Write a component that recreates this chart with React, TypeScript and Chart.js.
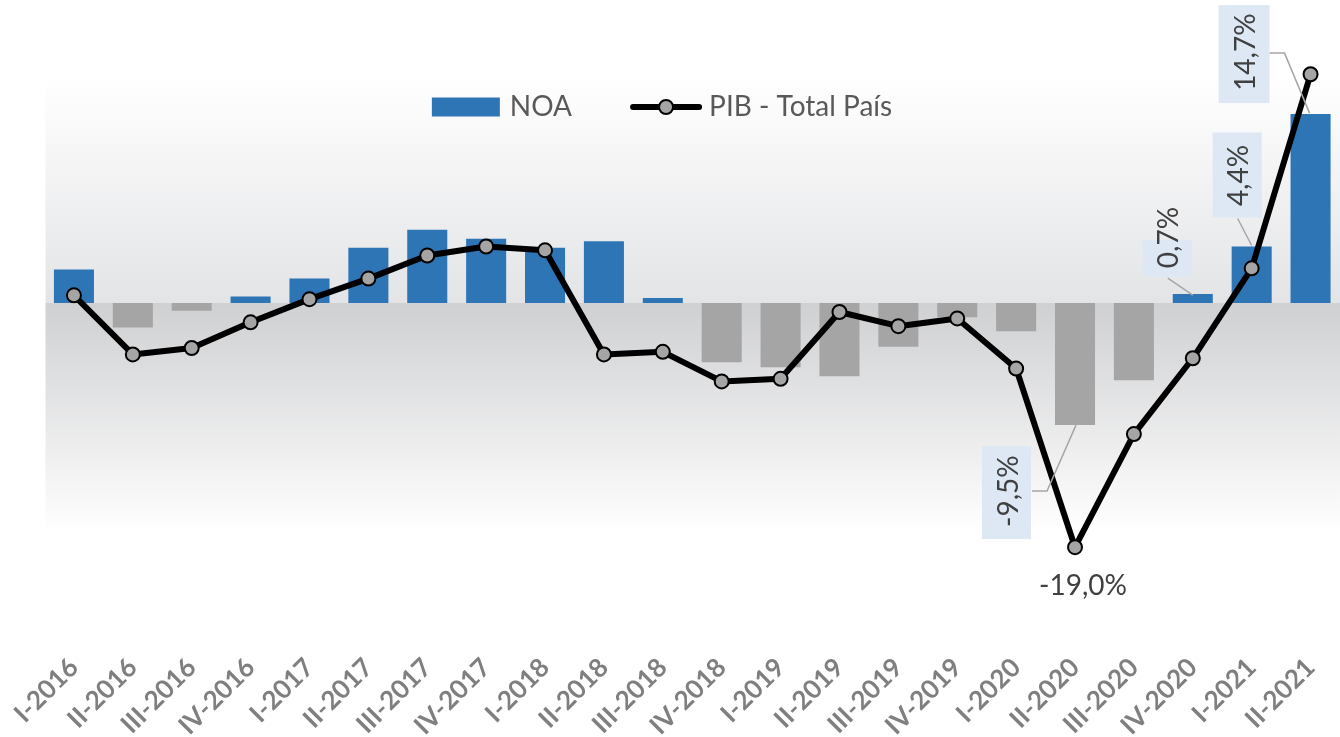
import React, { useEffect, useRef } from 'react';
import { Chart, registerables } from 'chart.js';

Chart.register(...registerables);

// ---------- data ----------
const categories = [
  'I-2016', 'II-2016', 'III-2016', 'IV-2016',
  'I-2017', 'II-2017', 'III-2017', 'IV-2017',
  'I-2018', 'II-2018', 'III-2018', 'IV-2018',
  'I-2019', 'II-2019', 'III-2019', 'IV-2019',
  'I-2020', 'II-2020', 'III-2020', 'IV-2020',
  'I-2021', 'II-2021',
];
const noaValues = [
  2.6, -1.9, -0.6, 0.5,
  1.9, 4.3, 5.7, 5.0,
  4.3, 4.8, 0.4, -4.6,
  -5.0, -5.7, -3.4, -1.1,
  -2.2, -9.5, -6.0, 0.7,
  4.4, 14.7,
];
const pibValues = [
  0.6, -4.0, -3.5, -1.5,
  0.3, 1.9, 3.7, 4.4,
  4.1, -4.0, -3.8, -6.1,
  -5.9, -0.7, -1.8, -1.2,
  -5.1, -19.0, -10.2, -4.3,
  2.7, 17.8,
];
const seriesNames = ['NOA', 'PIB - Total País'];
const noaLabelIndexes = [17, 19, 20, 21];
const pibLabelIndexes = [17];

// ---------- styles ----------
const BLUE = '#2E75B6';
const BAR_NEG = '#A5A5A5';
const POINT_FILL = '#A5A5A5';
const FONT = 'Lato, "Open Sans", sans-serif';
const LABEL_BOX = '#DDE8F4';
const LABEL_TEXT = '#404040';
const LEADER = '#A6A6A6';

const fmt = (v: number) => v.toFixed(1).replace('.', ',') + '%';

// label placement offsets relative to bar end (box center dx,dy,w,h ; text dx,dy ; leader points)
const noaLabelLayout: Record<number, any> = {
  17: { box: [-68.5, 67.5, 49, 93], text: [-66, 66], leader: [[-43, 66], [-28, 66], [1, 0]] },
  19: { box: [-25.5, -35.5, 49, 37], text: [-24, -56.5], leader: [[-25, -16], [0, 1]] },
  20: { box: [-14.5, -71.5, 49, 85], text: [-13, -71], leader: [[-14, -28], [0, -1]] },
  21: { box: [-66.5, -60, 51, 98], text: [-65, -62], leader: [[-41, -61], [-26, -61], [-1, -1]] },
};
const pibLabelOffset = [8, 39];

const plotBgPlugin = {
  id: 'plotBg',
  beforeDraw(chart: any) {
    const { ctx, chartArea, scales } = chart;
    const y = scales.y;
    const zero = y.getPixelForValue(0);
    const top = y.getPixelForValue(17.6);
    const bottom = y.getPixelForValue(-17.9);
    const left = chartArea.left + 1;
    const right = chartArea.right;
    ctx.save();
    let g = ctx.createLinearGradient(0, top, 0, zero);
    g.addColorStop(0, '#FFFFFF');
    g.addColorStop(1, '#E3E4E6');
    ctx.fillStyle = g;
    ctx.fillRect(left, top, right - left, zero - top);
    g = ctx.createLinearGradient(0, zero, 0, bottom);
    g.addColorStop(0, '#CFD0D2');
    g.addColorStop(1, '#FFFFFF');
    ctx.fillStyle = g;
    ctx.fillRect(left, zero, right - left, bottom - zero);
    ctx.restore();
  },
};

const legendPlugin = {
  id: 'customLegend',
  afterDraw(chart: any) {
    const { ctx } = chart;
    ctx.save();
    ctx.font = `28px ${FONT}`;
    ctx.textBaseline = 'middle';
    const w1 = ctx.measureText(seriesNames[0]).width;
    const w2 = ctx.measureText(seriesNames[1]).width;
    const total = 68 + 10 + w1 + 58 + 72 + 7 + w2;
    const cy = 107;
    let x = chart.width / 2 - 8 - total / 2;
    ctx.fillStyle = BLUE;
    ctx.fillRect(x, cy - 9.5, 68, 19);
    x += 78;
    ctx.fillStyle = '#595959';
    ctx.textAlign = 'left';
    ctx.fillText(seriesNames[0], x, cy);
    x += w1 + 58;
    ctx.strokeStyle = '#000';
    ctx.lineWidth = 6;
    ctx.lineCap = 'round';
    ctx.beginPath();
    ctx.moveTo(x + 3, cy);
    ctx.lineTo(x + 69, cy);
    ctx.stroke();
    ctx.beginPath();
    ctx.arc(x + 36, cy, 7, 0, Math.PI * 2);
    ctx.fillStyle = POINT_FILL;
    ctx.fill();
    ctx.lineWidth = 2;
    ctx.stroke();
    x += 79;
    ctx.fillStyle = '#595959';
    ctx.fillText(seriesNames[1], x, cy);
    ctx.restore();
  },
};

const dataLabelPlugin = {
  id: 'dataLabels',
  afterDraw(chart: any) {
    const { ctx } = chart;
    const barMeta = chart.getDatasetMeta(1);
    const lineMeta = chart.getDatasetMeta(0);
    ctx.save();
    ctx.font = `28px ${FONT}`;
    ctx.textAlign = 'center';
    ctx.textBaseline = 'middle';
    noaLabelIndexes.forEach((i) => {
      const el = barMeta.data[i];
      const lay = noaLabelLayout[i];
      if (!el || !lay) return;
      const ax = el.x;
      const ay = el.y;
      const [bdx, bdy, bw, bh] = lay.box;
      ctx.fillStyle = LABEL_BOX;
      ctx.fillRect(ax + bdx - bw / 2, ay + bdy - bh / 2, bw, bh);
      ctx.strokeStyle = LEADER;
      ctx.lineWidth = 1.5;
      ctx.beginPath();
      lay.leader.forEach((p: number[], k: number) => {
        if (k === 0) ctx.moveTo(ax + p[0], ay + p[1]);
        else ctx.lineTo(ax + p[0], ay + p[1]);
      });
      ctx.stroke();
      ctx.save();
      ctx.translate(ax + lay.text[0], ay + lay.text[1]);
      ctx.rotate(-Math.PI / 2);
      ctx.fillStyle = LABEL_TEXT;
      ctx.fillText(fmt(noaValues[i]), 0, 0);
      ctx.restore();
    });
    pibLabelIndexes.forEach((i) => {
      const el = lineMeta.data[i];
      if (!el) return;
      ctx.fillStyle = LABEL_TEXT;
      ctx.fillText(fmt(pibValues[i]), el.x + pibLabelOffset[0], el.y + pibLabelOffset[1]);
    });
    ctx.restore();
  },
};

export default function App() {
  const canvasRef = useRef<HTMLCanvasElement | null>(null);

  useEffect(() => {
    document.body.style.margin = '0';
    const canvas = canvasRef.current;
    if (!canvas) return;
    const chart = new Chart(canvas, {
      type: 'bar',
      data: {
        labels: categories,
        datasets: [
          {
            type: 'line',
            label: seriesNames[1],
            data: pibValues,
            borderColor: '#000000',
            borderWidth: 6,
            borderJoinStyle: 'round',
            borderCapStyle: 'round',
            tension: 0,
            pointRadius: 7,
            pointBackgroundColor: POINT_FILL,
            pointBorderColor: '#000000',
            pointBorderWidth: 2,
            clip: false,
            order: 0,
          } as any,
          {
            type: 'bar',
            label: seriesNames[0],
            data: noaValues,
            backgroundColor: noaValues.map((v) => (v >= 0 ? BLUE : BAR_NEG)),
            borderWidth: 0,
            barPercentage: 0.68,
            categoryPercentage: 1,
            order: 1,
          } as any,
        ],
      },
      options: {
        animation: false,
        responsive: true,
        maintainAspectRatio: false,
        layout: { autoPadding: false, padding: { top: 46, left: 44.5, right: 0, bottom: 0 } },
        plugins: {
          legend: { display: false },
          tooltip: { enabled: false },
        },
        scales: {
          x: {
            grid: { display: false, drawTicks: false },
            border: { display: false },
            ticks: {
              autoSkip: false,
              maxRotation: 45,
              minRotation: 45,
              padding: 2,
              color: '#7F7F7F',
              font: { family: FONT, size: 26, weight: 'bold' },
            },
            afterFit: (scale: any) => {
              scale.height = 87;
              scale.paddingLeft = 0;
              scale.paddingRight = 0;
            },
          },
          y: {
            display: false,
            min: -27,
            max: 20,
          },
        },
      } as any,
      plugins: [plotBgPlugin, legendPlugin, dataLabelPlugin],
    });
    return () => chart.destroy();
  }, []);

  return (
    <div style={{ position: 'relative', width: '1340px', height: '737px' }}>
      <canvas ref={canvasRef} />
    </div>
  );
}
